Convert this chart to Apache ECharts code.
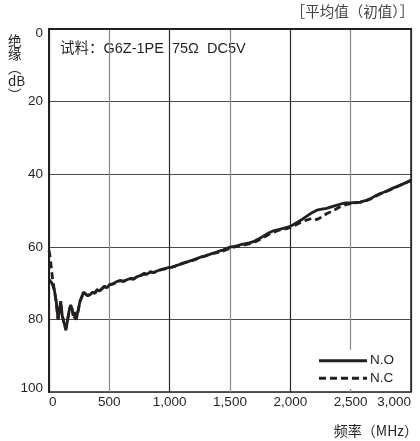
<!DOCTYPE html>
<html><head><meta charset="utf-8">
<script src="https://cdn.jsdelivr.net/npm/echarts@6/dist/echarts.min.js"></script>
<style>html,body{margin:0;padding:0;background:#fff}#c{width:420px;height:441px}</style>
</head><body><div id="c"></div>
<script>
var freq = [0,10,20,30,45,60,75,85,97,110,125,140,150,160,170,180,190,200,212,225,235,245,257,270,285,300,320,340,360,380,400,420,440,460,480,500,530,560,590,620,650,680,700,730,760,790,810,840,870,900,930,960,990,1020,1050,1080,1110,1140,1170,1200,1230,1260,1290,1320,1350,1380,1410,1440,1470,1500,1540,1580,1620,1660,1700,1740,1780,1820,1860,1900,1940,1980,2020,2060,2100,2140,2180,2220,2260,2300,2340,2380,2420,2460,2500,2540,2580,2620,2660,2700,2740,2780,2820,2860,2900,2940,2980,3000];
var nO = [69,69.3,69.8,70.5,72,75,80,78,75,79,81,83,82.5,79,77,76,77,79,78,80,79.5,77,75,74,72.5,72.8,73.5,73.2,72.5,72.8,71.8,72.2,71.5,70.8,71.3,70.5,70.2,69.6,69.3,69.5,69.0,68.7,68.9,68.2,67.9,67.3,67.6,66.9,67.1,66.6,66.3,66.0,65.7,65.6,65.2,64.9,64.5,64.2,63.9,63.6,63.2,62.8,62.6,62.2,61.9,61.6,61.2,60.9,60.5,60.1,59.9,59.5,59.2,58.9,58.5,57.8,57.0,56.2,55.6,55.3,54.9,54.6,54.0,53.2,52.4,51.5,50.6,49.9,49.6,49.4,49.0,48.6,48.2,47.9,47.9,47.8,47.7,47.3,46.8,46.1,45.4,44.9,44.3,43.7,43.2,42.6,42.0,41.7];
var nC = [61,63,66,69,72,75.5,80,78,75.5,79,81,82.5,82,79,77,76.5,77,79,78.5,80,79,77,75,74,72.5,73,73.5,73,72.5,72.8,71.8,72.2,71.5,71,71.3,70.5,70.2,69.8,69.3,69.5,69.0,68.8,68.9,68.2,67.9,67.5,67.6,66.9,67.1,66.6,66.3,66.1,65.8,65.6,65.3,64.9,64.6,64.2,64.0,63.6,63.3,62.9,62.6,62.2,61.9,61.7,61.5,61.2,60.8,60.4,60.0,59.8,59.5,59.2,58.8,58.1,57.4,56.6,56.0,55.5,55.2,54.9,54.4,53.7,53.0,52.6,52.1,52.5,51.8,50.9,50.3,49.6,48.8,48.4,48.1,47.9,47.7,47.4,46.9,46.2,45.5,45.0,44.4,43.8,43.2,42.6,42.0,41.7];
var xTicks = [0,500,1000,1500,2000,2500,3000];
var yTicks = [0,20,40,60,80,100];
var seriesNames = ['N.O','N.C'];

var chart = echarts.init(document.getElementById('c'), null, {renderer:'canvas'});
var txt = '#231f20';
var fontLat = '"Liberation Sans", Arial, "Noto Sans CJK SC", sans-serif';
function pairs(v){ return freq.map(function(f,i){return [f, v[i]];}); }
chart.setOption({
  animation:false,
  backgroundColor:'#fff',
  grid:{left:49,right:9,top:29,bottom:49,show:true,borderColor:txt,borderWidth:1.5},
  xAxis:{type:'value',min:0,max:3000,interval:500,
    axisLine:{show:true,lineStyle:{color:txt,width:2}},
    axisTick:{show:false},
    splitLine:{show:true,lineStyle:{color:['#2a2a2a','#8a8a8a'],width:1.2}},
    axisLabel:{color:txt,fontSize:13.5,fontFamily:fontLat,margin:4,alignMinLabel:'left',alignMaxLabel:'right',
      formatter:function(v){return v>=1000? Math.floor(v/1000)+','+String(v%1000).padStart(3,'0') : String(v);}}
  },
  yAxis:{type:'value',min:0,max:100,interval:20,inverse:true,
    axisLine:{show:true,lineStyle:{color:txt,width:2}},
    axisTick:{show:false},
    splitLine:{show:true,lineStyle:{color:'#4a4a4a',width:1.2}},
    axisLabel:{color:txt,fontSize:13.5,fontFamily:fontLat,margin:6,
      formatter:function(v){ if(v===yTicks[0]) return '{a|'+v+'}'; if(v===yTicks[yTicks.length-1]) return '{b|'+v+'}'; return String(v);},
      rich:{a:{fontSize:13.5,fontFamily:fontLat,color:txt,padding:[8,0,0,0]},b:{fontSize:13.5,fontFamily:fontLat,color:txt,padding:[0,0,8,0]}}
    }
  },
  legend:{
    data:seriesNames, orient:'vertical', right:24, bottom:52,
    itemWidth:48, itemHeight:12, itemGap:4, backgroundColor:'#fff',
    padding:[4,2,4,8],
    itemStyle:{opacity:0},
    lineStyle:{width:2.8},
    textStyle:{color:txt,fontSize:13.5,fontFamily:fontLat,padding:[0,0,0,-2]}
  },
  series:[
    {name:seriesNames[0],type:'line',data:pairs(nO),symbol:'none',
      lineStyle:{color:txt,width:2.8,type:'solid'},itemStyle:{color:txt},z:3},
    {name:seriesNames[1],type:'line',data:pairs(nC),symbol:'none',
      lineStyle:{color:txt,width:2.8,type:[7,4]},itemStyle:{color:txt},z:2}
  ],
  graphic:[
    {type:'text',left:60,top:42,style:{text:'试料：G6Z-1PE  75Ω  DC5V',fill:txt,font:'14.5px "Liberation Sans", "Noto Sans CJK SC", sans-serif'}},
    {type:'text',right:6,top:4,style:{text:'［平均值（初值）］',fill:'#444',font:'14.5px "Noto Sans CJK SC", sans-serif'}},
    {type:'text',right:2,top:424,style:{text:'频率（MHz）',fill:txt,font:'14px "Noto Sans CJK SC", sans-serif'}},
    {type:'text',left:8,top:34,style:{text:'绝\n缘\n︵\ndB\n︶',fill:txt,align:'center',lineHeight:13.5,font:'13.5px "Noto Sans CJK SC", sans-serif'}}
  ]
});
</script></body></html>
